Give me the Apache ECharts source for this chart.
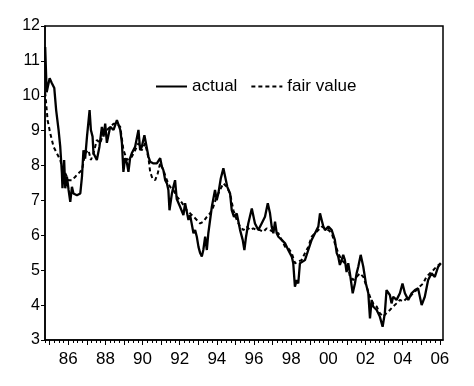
<!DOCTYPE html>
<html><head><meta charset="utf-8">
<script src="https://cdn.jsdelivr.net/npm/echarts@6/dist/echarts.min.js"></script>
<style>html,body{margin:0;padding:0;background:#fff}#c{width:474px;height:386px}</style>
</head><body><div id="c"></div>
<script>
// decimal years and values
var actualYears = [1984.76,1984.84,1985.00,1985.12,1985.25,1985.35,1985.48,1985.57,1985.66,1985.69,1985.78,1985.84,1985.93,1986.02,1986.11,1986.20,1986.28,1986.47,1986.65,1986.74,1986.82,1986.91,1987.01,1987.15,1987.22,1987.31,1987.36,1987.54,1987.68,1987.81,1987.90,1987.99,1988.08,1988.26,1988.44,1988.62,1988.80,1988.89,1988.97,1989.06,1989.16,1989.24,1989.33,1989.42,1989.60,1989.78,1989.87,1989.96,1990.10,1990.19,1990.32,1990.41,1990.59,1990.77,1990.95,1991.04,1991.12,1991.22,1991.31,1991.39,1991.45,1991.58,1991.66,1991.75,1991.84,1992.02,1992.20,1992.29,1992.38,1992.47,1992.56,1992.65,1992.74,1992.83,1992.92,1993.01,1993.10,1993.19,1993.27,1993.37,1993.46,1993.54,1993.73,1993.90,1993.99,1994.08,1994.21,1994.35,1994.44,1994.56,1994.71,1994.80,1994.92,1995.07,1995.25,1995.39,1995.48,1995.57,1995.69,1995.88,1996.05,1996.23,1996.41,1996.59,1996.74,1996.86,1996.95,1997.04,1997.13,1997.22,1997.31,1997.49,1997.67,1997.84,1998.03,1998.11,1998.20,1998.30,1998.38,1998.47,1998.56,1998.74,1998.92,1999.10,1999.28,1999.46,1999.55,1999.64,1999.73,1999.82,2000.00,2000.18,2000.35,2000.45,2000.53,2000.62,2000.72,2000.80,2000.89,2000.98,2001.07,2001.16,2001.31,2001.43,2001.52,2001.61,2001.74,2001.88,2002.02,2002.15,2002.24,2002.33,2002.41,2002.60,2002.77,2002.92,2003.04,2003.13,2003.31,2003.40,2003.49,2003.67,2003.85,2003.99,2004.12,2004.30,2004.48,2004.66,2004.83,2005.02,2005.19,2005.37,2005.55,2005.73,2005.91,2006.05];
var actualValues = [11.4,10.1,10.5,10.36,10.22,9.59,9.02,8.54,7.78,7.35,8.16,7.35,7.68,7.30,6.96,7.39,7.2,7.15,7.2,7.68,8.44,8.2,8.83,9.59,9.02,8.83,8.35,8.16,8.54,9.11,8.83,9.2,8.65,9.11,9.02,9.3,9.02,8.64,7.82,8.21,8.07,7.82,8.21,8.35,8.54,9.02,8.44,8.54,8.87,8.83,8.25,8.11,8.06,8.06,8.21,7.97,7.87,7.58,7.49,7.30,6.72,7.2,7.39,7.58,7.04,6.82,6.58,6.92,6.68,6.44,6.58,6.63,6.06,6.15,5.96,5.67,5.49,5.39,5.58,5.96,5.58,6.06,6.82,7.30,7.01,7.2,7.63,7.92,7.87,7.39,7.2,6.72,6.53,6.63,6.15,5.87,5.58,5.96,6.34,6.77,6.34,6.15,6.34,6.53,6.92,6.63,6.25,6.06,6.39,6.06,5.96,5.87,5.77,5.58,5.39,5.2,4.53,4.72,4.62,5.2,5.2,5.29,5.58,5.87,6.06,6.25,6.63,6.44,6.25,6.15,6.25,6.15,5.87,5.49,5.39,5.15,5.3,5.44,5.29,4.95,5.2,4.91,4.34,4.62,4.91,5.1,5.44,5.1,4.62,4.34,3.62,4.15,3.96,3.86,3.67,3.38,3.77,4.43,4.29,4.05,4.24,4.15,4.34,4.62,4.34,4.15,4.34,4.43,4.48,4.0,4.24,4.72,4.91,4.81,5.1,5.2];
var fairYears = [1984.76,1984.89,1985.03,1985.21,1985.39,1985.57,1985.66,1985.84,1986.02,1986.20,1986.38,1986.55,1986.74,1986.91,1987.09,1987.22,1987.36,1987.54,1987.72,1987.90,1988.08,1988.26,1988.44,1988.62,1988.80,1988.97,1989.16,1989.42,1989.60,1989.78,1989.96,1990.14,1990.32,1990.41,1990.53,1990.68,1990.82,1990.95,1991.12,1991.31,1991.48,1991.66,1991.84,1992.02,1992.20,1992.38,1992.56,1992.83,1993.10,1993.27,1993.46,1993.63,1993.81,1993.99,1994.17,1994.35,1994.53,1994.71,1994.89,1995.07,1995.25,1995.43,1995.61,1995.78,1995.96,1996.15,1996.32,1996.50,1996.68,1996.86,1997.04,1997.31,1997.49,1997.67,1997.84,1998.03,1998.20,1998.38,1998.56,1998.74,1998.92,1999.10,1999.28,1999.46,1999.64,1999.82,2000.00,2000.18,2000.35,2000.53,2000.72,2000.89,2001.07,2001.16,2001.34,2001.52,2001.70,2001.88,2002.06,2002.24,2002.41,2002.60,2002.77,2002.95,2003.13,2003.31,2003.49,2003.67,2003.85,2004.03,2004.21,2004.39,2004.56,2004.75,2004.92,2005.10,2005.28,2005.46,2005.64,2005.82,2006.05];
var fairValues = [10.1,9.3,8.93,8.54,8.35,8.16,7.97,7.78,7.58,7.58,7.68,7.78,7.87,8.35,8.44,8.16,8.35,8.73,8.64,8.93,9.02,9.11,9.2,9.2,9.11,8.45,8.16,8.25,8.44,8.64,8.44,8.64,8.21,7.82,7.63,7.58,7.78,8.07,7.87,7.58,7.39,7.30,7.11,7.01,6.87,6.72,6.63,6.49,6.34,6.39,6.53,6.63,6.82,7.11,7.30,7.49,7.39,7.2,6.72,6.44,6.25,6.15,6.25,6.15,6.2,6.15,6.15,6.1,6.2,6.15,6.1,6.06,5.87,5.67,5.63,5.49,5.2,5.25,5.29,5.49,5.67,5.96,6.06,6.15,6.25,6.2,6.15,6.06,5.77,5.49,5.29,5.2,5.1,4.81,4.72,4.81,4.91,4.81,4.53,4.24,4.05,3.96,3.77,3.67,3.77,3.86,3.96,4.05,4.15,4.1,4.19,4.24,4.34,4.43,4.53,4.62,4.81,4.91,5.0,5.1,5.2];
var yearTicks = [1985,1986,1987,1988,1989,1990,1991,1992,1993,1994,1995,1996,1997,1998,1999,2000,2001,2002,2003,2004,2005,2006];
var labelYears = [1986,1988,1990,1992,1994,1996,1998,2000,2002,2004,2006];

function zip(xs, ys){ return xs.map(function(x,i){ return [x, ys[i]]; }); }
var quarterTicks = [];
yearTicks.concat([1984]).forEach(function(y){ [0,0.25,0.5,0.75].forEach(function(q){ var v=y+q; if(v>=1984.75 && v<=2006.17) quarterTicks.push(v); }); });
quarterTicks.sort(function(a,b){return a-b;});

var FONT = "'Liberation Sans', Arial, Helvetica, sans-serif";
var chart = echarts.init(document.getElementById('c'), null, {renderer:'canvas'});
chart.setOption({
  animation:false,
  backgroundColor:'#fff',
  textStyle:{fontFamily:FONT},
  grid:{left:45, top:26, right:31, bottom:46, show:true, borderColor:'#000', borderWidth:1.5, backgroundColor:'transparent'},
  legend:{
    left:150, top:73, itemWidth:31, itemHeight:16, itemGap:13,
    itemStyle:{opacity:0},
    textStyle:{fontFamily:FONT, fontSize:17, color:'#000'},
    data:[{name:'actual'},{name:'fair value'}]
  },
  xAxis:[{
    type:'value', min:1984.75, max:2006.17,
    axisLine:{show:true, lineStyle:{color:'#000', width:1.5}},
    splitLine:{show:false},
    axisTick:{show:true, customValues:yearTicks, length:5, lineStyle:{color:'#000', width:1}},
    axisLabel:{customValues:labelYears, color:'#000', fontSize:17, fontFamily:FONT, margin:11,
      formatter:function(v){ var s=String(Math.round(v)%100); return s.length<2?'0'+s:s; }}
  },{
    type:'value', min:1984.75, max:2006.17, position:'bottom',
    axisLine:{show:false}, splitLine:{show:false},
    axisTick:{show:true, customValues:quarterTicks, length:3, lineStyle:{color:'#000', width:1}},
    axisLabel:{show:false}
  }],
  yAxis:{
    type:'value', min:3, max:12, interval:1,
    axisLine:{show:true, lineStyle:{color:'#000', width:1.5}},
    splitLine:{show:false},
    axisTick:{show:true, length:4, lineStyle:{color:'#000'}},
    axisLabel:{color:'#000', fontSize:16, fontFamily:FONT, margin:5}
  },
  series:[{
    name:'actual', type:'line', data:zip(actualYears, actualValues), symbol:'none',
    lineStyle:{color:'#000', width:2.3}, itemStyle:{color:'#000'}, z:3
  },{
    name:'fair value', type:'line', data:zip(fairYears, fairValues), symbol:'none',
    lineStyle:{color:'#000', width:2, type:[4,3]}, itemStyle:{color:'#000'}, z:2
  }]
});
</script></body></html>
